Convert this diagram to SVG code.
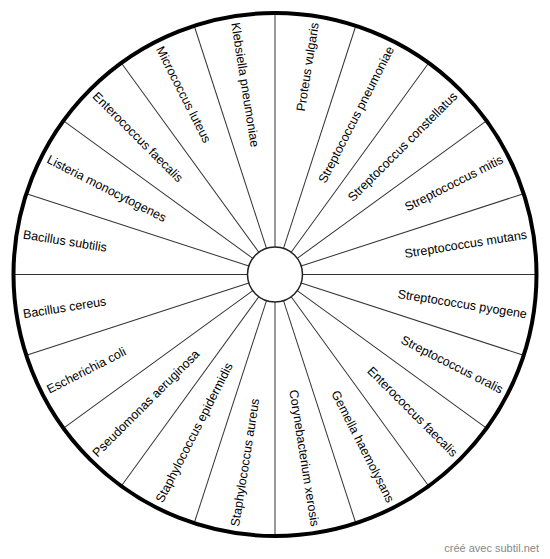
<svg xmlns="http://www.w3.org/2000/svg" width="550" height="559" viewBox="0 0 550 559">
<style>
.lbl{font-family:"Liberation Sans",Arial,sans-serif;font-size:12.5px;fill:#000;dominant-baseline:central}
.r{text-anchor:end}
.l{text-anchor:start}
.spoke{stroke:#333;stroke-width:1}
</style>
<rect width="550" height="559" fill="#fff"/>
<g id="spokes">
<line class="spoke" x1="275" y1="247" x2="275" y2="14" transform="rotate(0 275 274.5)"/>
<line class="spoke" x1="275" y1="247" x2="275" y2="14" transform="rotate(18 275 274.5)"/>
<line class="spoke" x1="275" y1="247" x2="275" y2="14" transform="rotate(36 275 274.5)"/>
<line class="spoke" x1="275" y1="247" x2="275" y2="14" transform="rotate(54 275 274.5)"/>
<line class="spoke" x1="275" y1="247" x2="275" y2="14" transform="rotate(72 275 274.5)"/>
<line class="spoke" x1="275" y1="247" x2="275" y2="14" transform="rotate(90 275 274.5)"/>
<line class="spoke" x1="275" y1="247" x2="275" y2="14" transform="rotate(108 275 274.5)"/>
<line class="spoke" x1="275" y1="247" x2="275" y2="14" transform="rotate(126 275 274.5)"/>
<line class="spoke" x1="275" y1="247" x2="275" y2="14" transform="rotate(144 275 274.5)"/>
<line class="spoke" x1="275" y1="247" x2="275" y2="14" transform="rotate(162 275 274.5)"/>
<line class="spoke" x1="275" y1="247" x2="275" y2="14" transform="rotate(180 275 274.5)"/>
<line class="spoke" x1="275" y1="247" x2="275" y2="14" transform="rotate(198 275 274.5)"/>
<line class="spoke" x1="275" y1="247" x2="275" y2="14" transform="rotate(216 275 274.5)"/>
<line class="spoke" x1="275" y1="247" x2="275" y2="14" transform="rotate(234 275 274.5)"/>
<line class="spoke" x1="275" y1="247" x2="275" y2="14" transform="rotate(252 275 274.5)"/>
<line class="spoke" x1="275" y1="247" x2="275" y2="14" transform="rotate(270 275 274.5)"/>
<line class="spoke" x1="275" y1="247" x2="275" y2="14" transform="rotate(288 275 274.5)"/>
<line class="spoke" x1="275" y1="247" x2="275" y2="14" transform="rotate(306 275 274.5)"/>
<line class="spoke" x1="275" y1="247" x2="275" y2="14" transform="rotate(324 275 274.5)"/>
<line class="spoke" x1="275" y1="247" x2="275" y2="14" transform="rotate(342 275 274.5)"/>
</g>
<circle id="rim" cx="275" cy="274.5" r="261.5" fill="none" stroke="#000" stroke-width="4"/>
<circle id="hub" cx="275" cy="274.5" r="27.5" fill="#fff" stroke="#222" stroke-width="1.5"/>
<g id="s0"><text class="lbl r" x="530" y="274.5" transform="rotate(-81 275 274.5)">Proteus vulgaris</text></g>
<g id="s1"><text class="lbl r" x="530" y="274.5" transform="rotate(-63 275 274.5)">Streptococcus pneumoniae</text></g>
<g id="s2"><text class="lbl r" x="530" y="274.5" transform="rotate(-45 275 274.5)">Streptococcus constellatus</text></g>
<g id="s3"><text class="lbl r" x="530" y="274.5" transform="rotate(-27 275 274.5)">Streptococcus mitis</text></g>
<g id="s4"><text class="lbl r" x="530" y="274.5" transform="rotate(-9 275 274.5)">Streptococcus mutans</text></g>
<g id="s5"><text class="lbl r" x="530" y="274.5" transform="rotate(9 275 274.5)">Streptococcus pyogene</text></g>
<g id="s6"><text class="lbl r" x="530" y="274.5" transform="rotate(27 275 274.5)">Streptococcus oralis</text></g>
<g id="s7"><text class="lbl r" x="530" y="274.5" transform="rotate(45 275 274.5)">Enterococcus faecalis</text></g>
<g id="s8"><text class="lbl r" x="530" y="274.5" transform="rotate(63 275 274.5)">Gemella haemolysans</text></g>
<g id="s9"><text class="lbl r" x="530" y="274.5" transform="rotate(81 275 274.5)">Corynebacterium xerosis</text></g>
<g id="s10"><text class="lbl l" x="20" y="274.5" transform="rotate(-81 275 274.5)">Staphylococcus aureus</text></g>
<g id="s11"><text class="lbl l" x="20" y="274.5" transform="rotate(-63 275 274.5)">Staphylococcus epidermidis</text></g>
<g id="s12"><text class="lbl l" x="20" y="274.5" transform="rotate(-45 275 274.5)">Pseudomonas aeruginosa</text></g>
<g id="s13"><text class="lbl l" x="20" y="274.5" transform="rotate(-27 275 274.5)">Escherichia coli</text></g>
<g id="s14"><text class="lbl l" x="20" y="274.5" transform="rotate(-9 275 274.5)">Bacillus cereus</text></g>
<g id="s15"><text class="lbl l" x="20" y="274.5" transform="rotate(9 275 274.5)">Bacillus subtilis</text></g>
<g id="s16"><text class="lbl l" x="20" y="274.5" transform="rotate(27 275 274.5)">Listeria monocytogenes</text></g>
<g id="s17"><text class="lbl l" x="20" y="274.5" transform="rotate(45 275 274.5)">Enterococcus faecalis</text></g>
<g id="s18"><text class="lbl l" x="20" y="274.5" transform="rotate(63 275 274.5)">Micrococcus luteus</text></g>
<g id="s19"><text class="lbl l" x="20" y="274.5" transform="rotate(81 275 274.5)">Klebsiella pneumoniae</text></g>
<text x="539" y="552" text-anchor="end" font-family="'Liberation Sans',Arial,sans-serif" font-size="11" fill="#888">créé avec subtil.net</text>
</svg>
